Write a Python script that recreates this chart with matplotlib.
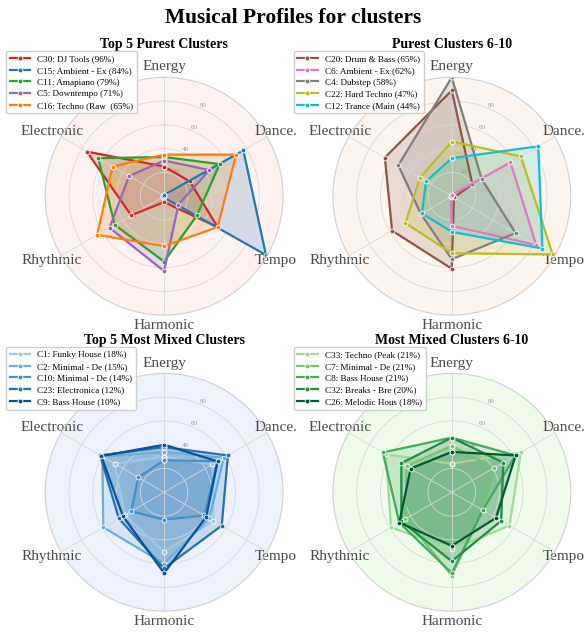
import numpy as np
import matplotlib
matplotlib.use('Agg')
import matplotlib.pyplot as plt

plt.rcParams['font.family'] = ['Liberation Serif', 'DejaVu Serif']

features = ['Energy', 'Dance.', 'Tempo', 'Harmonic', 'Rhythmic', 'Electronic']

# panel 1: top 5 purest
p1_labels = ['C30: DJ Tools (96%)', 'C15: Ambient - Ex (84%)', 'C11: Amapiano (79%)',
             'C5: Downtempo (71%)', 'C16: Techno (Raw  (65%)']
p1_values = [[25, 25, 52, 5, 32, 75],
             [1, 77, 99, 1, 1, 1],
             [33, 54, 32, 55, 48, 64],
             [30, 44, 14, 63, 53, 34],
             [35, 70, 52, 42, 65, 50]]
p1_colors = ['#d62728', '#1f77b4', '#2ca02c', '#9467bd', '#ff7f0e']

# panel 2: purest 6-10
p2_labels = ['C20: Drum & Bass (65%)', 'C6: Ambient - Ex (62%)', 'C4: Dubstep (58%)',
             'C22: Hard Techno (47%)', 'C12: Trance (Main (44%)']
p2_values = [[89, 20, 2, 61, 58, 65],
             [1, 57, 82, 25, 1, 1],
             [100, 29, 62, 53, 30, 52],
             [46, 67, 98, 48, 45, 31],
             [32, 84, 88, 30, 29, 25]]
p2_colors = ['#8c564b', '#e377c2', '#7f7f7f', '#bcbd22', '#17becf']

# panel 3: top 5 most mixed
p3_labels = ['C1: Funky House (18%)', 'C2: Minimal - De (15%)', 'C10: Minimal - De (14%)',
             'C23: Electronica (12%)', 'C9: Bass House (10%)']
p3_values = [[30, 47, 48, 50, 38, 48],
             [34, 58, 44, 60, 59, 60],
             [27, 52, 39, 23, 32, 25],
             [38, 62, 56, 64, 44, 62],
             [40, 52, 41, 68, 40, 61]]
p3_colors = ['#9ecae1', '#6baed6', '#4292c6', '#2171b5', '#08519c']

# panel 4: most mixed 6-10
p4_labels = ['C33: Techno (Peak (21%)', 'C7: Minimal - De (21%)', 'C8: Bass House (21%)',
             'C32: Breaks - Bre (20%)', 'C26: Melodic Hous (18%)']
p4_values = [[24, 67, 56, 48, 59, 64],
             [39, 41, 30, 70, 45, 44],
             [46, 62, 30, 68, 51, 67],
             [46, 50, 48, 58, 49, 49],
             [34, 62, 43, 45, 51, 40]]
p4_colors = ['#a1d99b', '#74c476', '#41ab5d', '#238b45', '#005a32']

panels = [
    ('Top 5 Purest Clusters', p1_labels, p1_values, p1_colors, '#fdf2f0', [0.077, 0.503]),
    ('Purest Clusters 6-10', p2_labels, p2_values, p2_colors, '#fef6ee', [0.568, 0.503]),
    ('Top 5 Most Mixed Clusters', p3_labels, p3_values, p3_colors, '#eef2fc', [0.077, 0.036]),
    ('Most Mixed Clusters 6-10', p4_labels, p4_values, p4_colors, '#effcec', [0.568, 0.036]),
]

angles = np.linspace(0, 2 * np.pi, len(features), endpoint=False)
closed = np.concatenate([angles, angles[:1]])

fig = plt.figure(figsize=(5.86, 6.34), dpi=100)
fig.suptitle('Musical Profiles for clusters', fontsize=15.5, fontweight='bold', y=0.988)

for title, labels, values, colors, bg, (x0, y0) in panels:
    ax = fig.add_axes([x0, y0, 0.406, 0.375], projection='polar')
    ax.set_theta_offset(np.pi / 2)
    ax.set_theta_direction(-1)
    ax.set_facecolor(bg)
    for lab, vals, c in zip(labels, values, colors):
        v = np.concatenate([vals, vals[:1]])
        ax.plot(closed, v, '-o', color=c, lw=1.6, ms=3.5, mec='white', mew=0.6, label=lab)
        ax.fill(closed, v, color=c, alpha=0.18)
    ax.set_ylim(0, 100)
    ax.set_yticks([20, 40, 60, 80])
    ax.set_yticklabels(['20', '40', '60', '80'], fontsize=5, color='#999999')
    ax.set_rlabel_position(22)
    ax.set_xticks(angles)
    ax.set_xticklabels(features, fontsize=11, color='#4a4a4a')
    ax.tick_params(axis='x', pad=-3)
    ax.grid(color='#d8d8d8', lw=0.6)
    ax.spines['polar'].set_color('#d0d0d0')
    ax.spines['polar'].set_linewidth(0.8)
    ax.set_title(title, fontsize=10, fontweight='bold', y=1.09)
    ax.legend(loc='upper left', bbox_to_anchor=(-0.165, 1.11), fontsize=6.6,
              frameon=True, framealpha=0.95, edgecolor='#cccccc', borderaxespad=0,
              handlelength=2.2, labelspacing=0.35, borderpad=0.4)

fig.savefig('out.png', dpi=100)
